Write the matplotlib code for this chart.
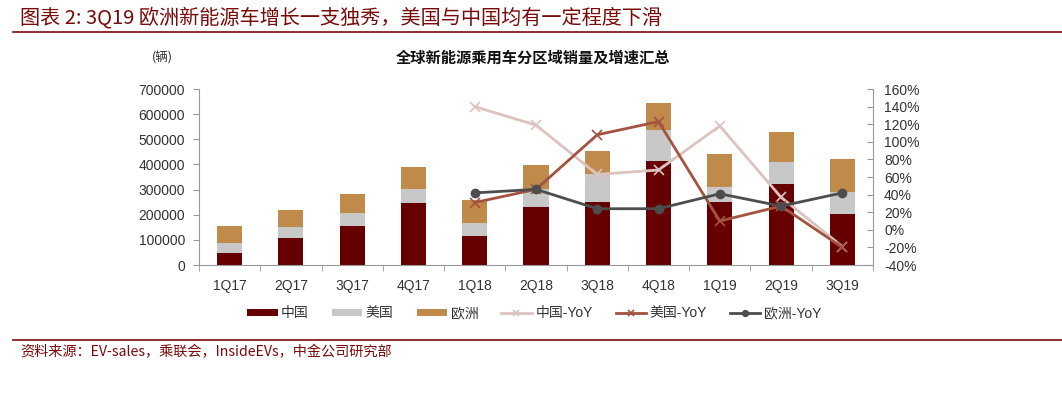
import matplotlib
matplotlib.use("Agg")
import matplotlib.pyplot as plt
import numpy as np
from matplotlib.ticker import FuncFormatter

plt.rcParams['font.family'] = ['Liberation Sans', 'Noto Sans CJK SC', 'DejaVu Sans']

categories = ['1Q17', '2Q17', '3Q17', '4Q17', '1Q18', '2Q18', '3Q18', '4Q18', '1Q19', '2Q19', '3Q19']
china = [48000, 108000, 154000, 247000, 114000, 232000, 252000, 412000, 252000, 321000, 203000]
usa = [41000, 45000, 52000, 56000, 55000, 69000, 112000, 127000, 59000, 87000, 89000]
europe = [65000, 66000, 77000, 87000, 90000, 96000, 90000, 106000, 130000, 122000, 129000]

yoy_categories = ['1Q18', '2Q18', '3Q18', '4Q18', '1Q19', '2Q19', '3Q19']
china_yoy = [140, 119, 63, 68, 118, 37, -19]
usa_yoy = [31, 46, 108, 123, 10, 27, -20]
europe_yoy = [42, 46, 24, 24, 41, 27, 42]

c_china = '#660000'
c_usa = '#C8C8C8'
c_eu = '#C08A4B'
c_china_yoy = '#DCC3BF'
c_usa_yoy = '#A3533F'
c_eu_yoy = '#4D4D4D'
dark_red = '#7A0A0A'

fig = plt.figure(figsize=(10.62, 3.95), dpi=100)
ax = fig.add_axes([0.1874, 0.329, 0.6346, 0.4456])
ax2 = ax.twinx()
ax.set_zorder(1)
ax2.set_zorder(2)
ax.patch.set_visible(False)

x = np.arange(len(categories))
w = 0.41
china_a = np.array(china)
usa_a = np.array(usa)
eu_a = np.array(europe)
b1 = ax.bar(x, china_a, w, color=c_china, label='中国')
b2 = ax.bar(x, usa_a, w, bottom=china_a, color=c_usa, label='美国')
b3 = ax.bar(x, eu_a, w, bottom=china_a + usa_a, color=c_eu, label='欧洲')

xi = np.array([categories.index(c) for c in yoy_categories])
l1, = ax2.plot(xi, china_yoy, color=c_china_yoy, lw=2, marker='x', ms=7, mew=1.2, label='中国-YoY')
l2, = ax2.plot(xi, usa_yoy, color=c_usa_yoy, lw=2, marker='x', ms=7, mew=1.2, label='美国-YoY')
l3, = ax2.plot(xi, europe_yoy, color=c_eu_yoy, lw=2, marker='o', ms=6, label='欧洲-YoY')

ax.set_xlim(-0.5, len(categories) - 0.5)
ax.set_ylim(0, 700000)
ax.set_yticks(np.arange(0, 700001, 100000))
ax.yaxis.set_major_formatter(FuncFormatter(lambda v, p: f'{int(v)}'))
ax2.set_ylim(-40, 160)
ax2.set_yticks(np.arange(-40, 161, 20))
ax2.yaxis.set_major_formatter(FuncFormatter(lambda v, p: f'{int(v)}%'))

ax.set_xticks(x)
ax.set_xticklabels(categories)
ax.set_xticks(np.arange(-0.5, len(categories), 1), minor=True)
ax.tick_params(axis='x', which='major', length=0, pad=10, labelsize=10, colors='#333333')
ax.tick_params(axis='x', which='minor', length=4, color='#999999', direction='out')
ax.tick_params(axis='y', length=4, color='#999999', labelsize=10, labelcolor='#333333', pad=6)
ax2.tick_params(axis='y', length=4, color='#999999', direction='in', labelsize=10, labelcolor='#333333', pad=8)

for a in (ax, ax2):
    a.spines['top'].set_visible(False)
    for s in ('left', 'right', 'bottom'):
        a.spines[s].set_color('#999999')
        a.spines[s].set_linewidth(0.8)
ax.spines['right'].set_visible(False)
ax2.spines['left'].set_visible(False)
ax2.spines['bottom'].set_visible(False)

handles = [b1, b2, b3, l1, l2, l3]
labels = ['中国', '美国', '欧洲', '中国-YoY', '美国-YoY', '欧洲-YoY']
leg = fig.legend(handles, labels, loc='center', bbox_to_anchor=(0.503, 0.207), ncol=6,
                 frameon=False, fontsize=10, handlelength=2.2, handleheight=0.45,
                 columnspacing=1.65, handletextpad=0.25, markerscale=0.7)
for t in leg.get_texts():
    t.set_color('#333333')

# Header
fig.text(0.019, 0.955, '图表 2: 3Q19 欧洲新能源车增长一支独秀，美国与中国均有一定程度下滑',
         fontsize=14.5, color=dark_red, style='italic', va='center', ha='left',
         family=['Noto Sans CJK SC', 'DejaVu Sans'])
fig.add_artist(plt.Line2D([0.012, 1.0], [0.918, 0.918], color=dark_red, lw=1.2))
fig.text(0.502, 0.853, '全球新能源乘用车分区域销量及增速汇总', fontsize=11, fontweight='bold',
         color='#111111', ha='center', va='center', family=['Noto Sans CJK SC', 'DejaVu Sans'])
fig.text(0.153, 0.853, '(辆)', fontsize=9, color='#333333', ha='center', va='center',
         family=['Noto Sans CJK SC', 'DejaVu Sans'])

# Footer
fig.add_artist(plt.Line2D([0.012, 1.0], [0.139, 0.139], color=dark_red, lw=1.2))
fig.text(0.019, 0.108, '资料来源：EV-sales，乘联会，InsideEVs，中金公司研究部', fontsize=10.2,
         color=dark_red, style='italic', va='center', ha='left',
         family=['Noto Sans CJK SC', 'DejaVu Sans'])

fig.savefig('out.png', dpi=100)
